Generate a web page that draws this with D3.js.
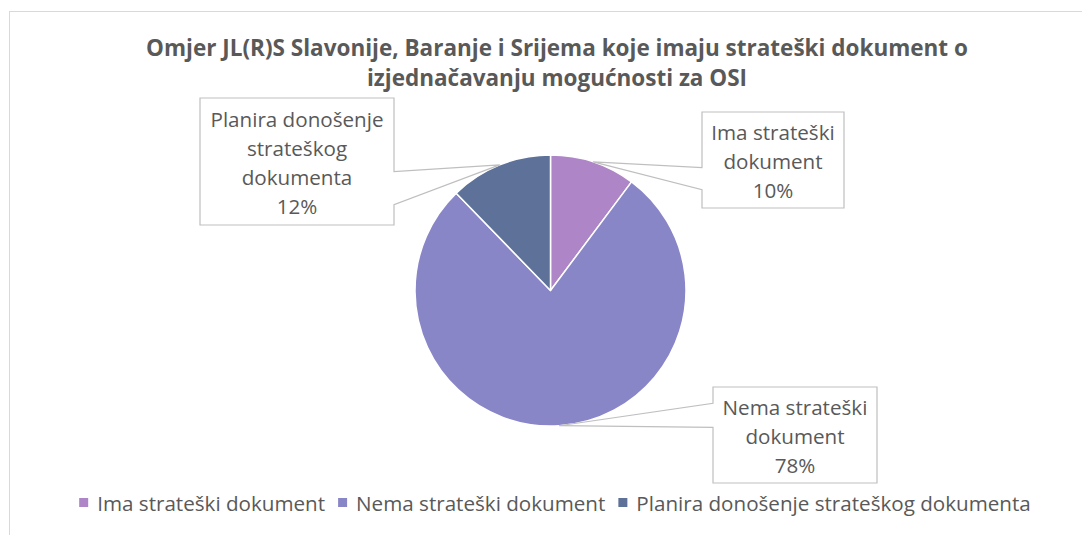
<!DOCTYPE html>
<html>
<head>
<meta charset="utf-8">
<script src="https://cdn.jsdelivr.net/npm/d3@7"></script>
<style>
  html, body { margin: 0; padding: 0; background: #fff; }
  svg { display: block; font-family: "Open Sans", sans-serif; }
</style>
</head>
<body>
<svg id="chart" width="1082" height="535"></svg>
<script>
// Data
const categories = ["Ima strateški dokument", "Nema strateški dokument", "Planira donošenje strateškog dokumenta"];
const counts = [5, 38, 6];
const percentLabels = ["10%", "78%", "12%"];
const labelLines = [
    ["Ima strateški", "dokument"],
    ["Nema strateški", "dokument"],
    ["Planira donošenje", "strateškog", "dokumenta"]
];
const colors = ["#ae85c6", "#8986c8", "#5e7299"];
const titleLines = [
    "Omjer JL(R)S Slavonije, Baranje i Srijema koje imaju strateški dokument o",
    "izjednačavanju mogućnosti za OSI"
];

// Layout of the callout boxes (center, size, which side the pointer leaves, pointer base fractions)
const callouts = [
    { cx: 773, cy: 160, w: 142, h: 96, side: "left", b1: 0.58, b2: 0.81 },
    { cx: 795, cy: 435, w: 164, h: 96, side: "left", b1: 0.17, b2: 0.42 },
    { cx: 297, cy: 161.5, w: 194, h: 127, side: "right", b1: 0.58, b2: 0.84 }
];

const textColor = "#595959";
const svg = d3.select("#chart");

// chart frame (cropped on right/bottom)
svg.append("rect")
    .attr("x", 9.5).attr("y", 11.5)
    .attr("width", 1200).attr("height", 600)
    .attr("fill", "#fff")
    .attr("stroke", "#d9d9d9");

// fit font size so that a string matches a target width
function fitSize(str, target, weight) {
    const t = svg.append("text")
        .style("font-size", "100px")
        .style("font-weight", weight || "normal")
        .text(str);
    const w = t.node().getComputedTextLength();
    t.remove();
    return 100 * target / w;
}

const titleSize = fitSize(titleLines[0], 822, "bold");
const bodySize = fitSize(categories[0], 228);

// Title
svg.append("g").selectAll("text")
    .data(titleLines)
    .join("text")
    .attr("x", 557)
    .attr("y", (d, i) => 56 + i * 30)
    .attr("text-anchor", "middle")
    .attr("fill", textColor)
    .style("font-weight", "bold")
    .style("font-size", titleSize + "px")
    .text(d => d);

// Pie
const cx = 550.5, cy = 290.5, radius = 135.5;
const pie = d3.pie().sort(null).value(d => d);
const arcs = pie(counts);
const arc = d3.arc().innerRadius(0).outerRadius(radius);
const edgeArc = d3.arc().innerRadius(radius).outerRadius(radius);

const g = svg.append("g").attr("transform", `translate(${cx},${cy})`);
g.selectAll("path")
    .data(arcs)
    .join("path")
    .attr("d", arc)
    .attr("fill", (d, i) => colors[i])
    .attr("stroke", "#fff")
    .attr("stroke-width", 1.5)
    .attr("stroke-linejoin", "round");

// Callout labels
const labels = svg.append("g");
arcs.forEach((d, i) => {
    const c = callouts[i];
    const [tx, ty] = edgeArc.centroid(d);
    const tip = [cx + tx, cy + ty];
    const l = c.cx - c.w / 2, r = c.cx + c.w / 2;
    const t = c.cy - c.h / 2, b = c.cy + c.h / 2;
    const y1 = t + c.b1 * c.h, y2 = t + c.b2 * c.h;
    const p = d3.path();
    if (c.side === "left") {
        p.moveTo(l, t); p.lineTo(r, t); p.lineTo(r, b); p.lineTo(l, b);
        p.lineTo(l, y2); p.lineTo(tip[0], tip[1]); p.lineTo(l, y1);
    } else {
        p.moveTo(l, t); p.lineTo(r, t); p.lineTo(r, y1);
        p.lineTo(tip[0], tip[1]); p.lineTo(r, y2); p.lineTo(r, b); p.lineTo(l, b);
    }
    p.closePath();
    labels.append("path")
        .attr("d", p.toString())
        .attr("fill", "#fff")
        .attr("stroke", "#bfbfbf")
        .attr("stroke-width", 1.2);

    const lines = labelLines[i].concat([percentLabels[i]]);
    const lh = 28.8;
    labels.append("g").selectAll("text")
        .data(lines)
        .join("text")
        .attr("x", c.cx)
        .attr("y", (s, j) => c.cy + 9 + (j - (lines.length - 1) / 2) * lh)
        .attr("text-anchor", "middle")
        .attr("fill", textColor)
        .style("font-size", bodySize + "px")
        .text(s => s);
});

// Legend
const legend = svg.append("g");
const items = legend.selectAll("g")
    .data(categories)
    .join("g");
items.append("rect")
    .attr("width", 9).attr("height", 9)
    .attr("y", 498)
    .attr("fill", (d, i) => colors[i]);
items.append("text")
    .attr("y", 510.5)
    .attr("fill", textColor)
    .style("font-size", bodySize + "px")
    .text(d => d);

const widths = [];
items.select("text").each(function () { widths.push(this.getComputedTextLength()); });
const markerGap = 9, itemGap = 13;
const total = d3.sum(widths) + categories.length * (9 + markerGap) + (categories.length - 1) * itemGap;
let x0 = 555 - total / 2;
items.each(function (d, i) {
    const it = d3.select(this);
    it.select("rect").attr("x", x0);
    it.select("text").attr("x", x0 + 9 + markerGap);
    x0 += 9 + markerGap + widths[i] + itemGap;
});
</script>
</body>
</html>
